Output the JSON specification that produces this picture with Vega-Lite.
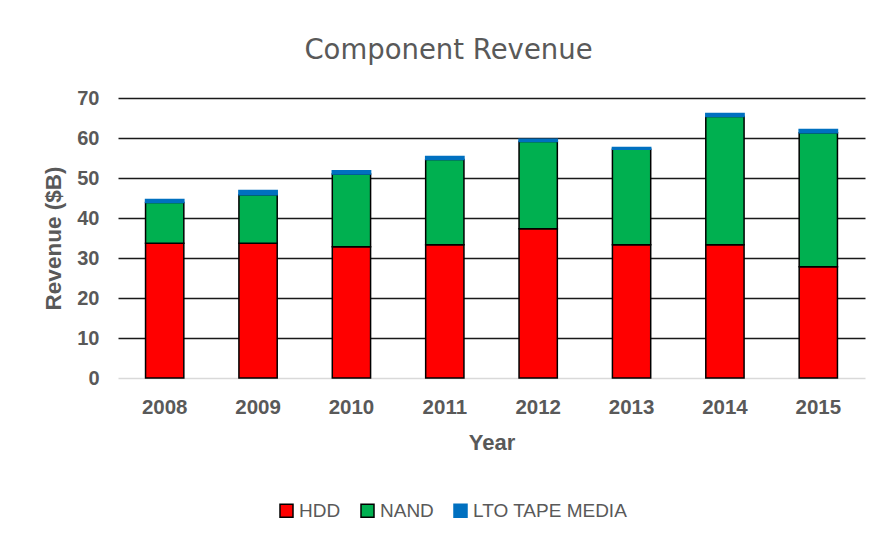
{
  "$schema": "https://vega.github.io/schema/vega-lite/v6.json",
  "autosize": "none",
  "width": 747,
  "height": 280,
  "padding": {"left": 118, "top": 98, "right": 16, "bottom": 163},
  "background": "white",
  "title": {
    "text": "Component Revenue",
    "font": "DejaVu Sans",
    "fontSize": 27.5,
    "fontWeight": "normal",
    "color": "#595959",
    "anchor": "middle",
    "dx": -43,
    "baseline": "alphabetic",
    "offset": 2
  },
  "data": {
    "values": [
      {"Year": "2008", "Component": "HDD", "Revenue": 33.7},
      {"Year": "2008", "Component": "NAND", "Revenue": 10.2},
      {"Year": "2008", "Component": "LTO TAPE MEDIA", "Revenue": 0.7},
      {"Year": "2009", "Component": "HDD", "Revenue": 33.7},
      {"Year": "2009", "Component": "NAND", "Revenue": 12.1},
      {"Year": "2009", "Component": "LTO TAPE MEDIA", "Revenue": 1.1},
      {"Year": "2010", "Component": "HDD", "Revenue": 32.8},
      {"Year": "2010", "Component": "NAND", "Revenue": 18.2},
      {"Year": "2010", "Component": "LTO TAPE MEDIA", "Revenue": 0.8},
      {"Year": "2011", "Component": "HDD", "Revenue": 33.3},
      {"Year": "2011", "Component": "NAND", "Revenue": 21.3},
      {"Year": "2011", "Component": "LTO TAPE MEDIA", "Revenue": 0.8},
      {"Year": "2012", "Component": "HDD", "Revenue": 37.3},
      {"Year": "2012", "Component": "NAND", "Revenue": 21.8},
      {"Year": "2012", "Component": "LTO TAPE MEDIA", "Revenue": 0.6},
      {"Year": "2013", "Component": "HDD", "Revenue": 33.3},
      {"Year": "2013", "Component": "NAND", "Revenue": 23.9},
      {"Year": "2013", "Component": "LTO TAPE MEDIA", "Revenue": 0.4},
      {"Year": "2014", "Component": "HDD", "Revenue": 33.3},
      {"Year": "2014", "Component": "NAND", "Revenue": 32.1},
      {"Year": "2014", "Component": "LTO TAPE MEDIA", "Revenue": 0.7},
      {"Year": "2015", "Component": "HDD", "Revenue": 27.8},
      {"Year": "2015", "Component": "NAND", "Revenue": 33.5},
      {"Year": "2015", "Component": "LTO TAPE MEDIA", "Revenue": 0.8}
    ]
  },
  "transform": [
    {"calculate": "indexof(['HDD', 'NAND', 'LTO TAPE MEDIA'], datum.Component)", "as": "stackOrder"}
  ],
  "mark": {"type": "bar", "strokeWidth": 1.5},
  "encoding": {
    "x": {
      "field": "Year",
      "type": "nominal",
      "scale": {"paddingInner": 0.59, "paddingOuter": 0.295},
      "axis": {
        "title": "Year",
        "labelAngle": 0,
        "labelFont": "Liberation Sans",
        "labelFontSize": 20.5,
        "labelFontWeight": "bold",
        "labelColor": "#595959",
        "labelPadding": 19,
        "ticks": false,
        "domain": false,
        "titleFont": "Liberation Sans",
        "titleFontSize": 22,
        "titleFontWeight": "bold",
        "titleColor": "#595959",
        "titlePadding": 15
      }
    },
    "y": {
      "field": "Revenue",
      "type": "quantitative",
      "stack": "zero",
      "scale": {"domain": [0, 70], "nice": false},
      "axis": {
        "title": "Revenue ($B)",
        "values": [0, 10, 20, 30, 40, 50, 60, 70],
        "labelFont": "Liberation Sans",
        "labelFontSize": 20,
        "labelFontWeight": "bold",
        "labelColor": "#595959",
        "labelPadding": 19,
        "ticks": false,
        "domain": false,
        "grid": true,
        "gridWidth": 1.5,
        "gridColor": {"condition": {"test": "datum.value === 0", "value": "#d9d9d9"}, "value": "#1a1a1a"},
        "titleFont": "Liberation Sans",
        "titleFontSize": 22.5,
        "titleFontWeight": "bold",
        "titleColor": "#595959",
        "titlePadding": 11
      }
    },
    "order": {"field": "stackOrder", "type": "quantitative", "sort": "ascending"},
    "color": {
      "field": "Component",
      "type": "nominal",
      "sort": ["HDD", "NAND", "LTO TAPE MEDIA"],
      "scale": {"domain": ["HDD", "NAND", "LTO TAPE MEDIA"], "range": ["#FF0000", "#00B050", "#0070C0"]},
      "legend": {
        "title": null,
        "orient": "none",
        "direction": "horizontal",
        "legendX": 159,
        "legendY": 403,
        "symbolType": "square",
        "symbolSize": 169,
        "symbolStrokeColor": "black",
        "symbolStrokeWidth": 1.5,
        "symbolOpacity": 1,
        "labelFont": "Liberation Sans",
        "labelFontSize": 19,
        "labelColor": "#595959",
        "labelOffset": 3,
        "columnPadding": 17,
        "encode": {
          "symbols": {
            "update": {
              "stroke": {"signal": "datum.value === 'LTO TAPE MEDIA' ? '#0070C0' : 'black'"}
            }
          }
        }
      }
    },
    "stroke": {
      "condition": {"test": "datum.Component === 'LTO TAPE MEDIA'", "value": "#0070C0"},
      "value": "black"
    }
  },
  "config": {"view": {"stroke": null}}
}
